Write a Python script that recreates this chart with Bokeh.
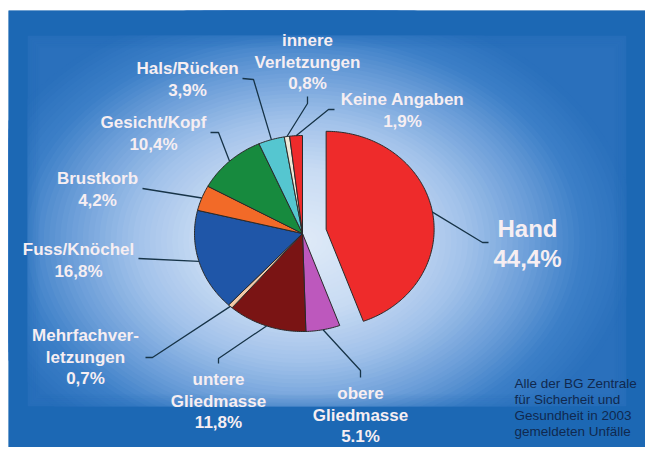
import numpy as np
from bokeh.plotting import figure
from bokeh.models import Range1d
from bokeh.core.properties import value
from bokeh.embed import file_html
from bokeh.resources import INLINE

# ---------------- data ----------------
categories = ["Hand", "obere Gliedmasse", "untere Gliedmasse", "Mehrfachverletzungen",
              "Fuss/Knöchel", "Brustkorb", "Gesicht/Kopf", "Hals/Rücken",
              "innere Verletzungen", "Keine Angaben"]
shares = [44.4, 5.1, 11.8, 0.7, 16.8, 4.2, 10.4, 3.9, 0.8, 1.9]
name_lines = [["Hand"], ["obere", "Gliedmasse"], ["untere", "Gliedmasse"],
              ["Mehrfachver-", "letzungen"], ["Fuss/Knöchel"], ["Brustkorb"],
              ["Gesicht/Kopf"], ["Hals/Rücken"], ["innere", "Verletzungen"],
              ["Keine Angaben"]]
pct_labels = ["44,4%", "5.1%", "11,8%", "0,7%", "16,8%", "4,2%", "10,4%", "3,9%", "0,8%", "1,9%"]
note_lines = ["Alle der BG Zentrale", "für Sicherheit und", "Gesundheit in 2003",
              "gemeldeten Unfälle"]

# ---------------- style / layout ----------------
slice_colors = ["#ee2b2b", "#bd58bd", "#7a1414", "#f2c8a6", "#1f56a8", "#f26a28",
                "#178a3e", "#55c6d0", "#efe8d6", "#ee2b2b"]
explode = [24, 0, 0, 0, 0, 0, 0, 0, 0, 0]
# label anchor (centre of first line) and leader line points, in page pixels
label_pos = [(527, 228), (360, 393), (218, 379), (85, 335), (78, 249),
             (97, 178), (153, 122), (187, 68), (307, 40), (402, 99)]
leader_end = [(488, 242), (360, 377), (218, 363), (145, 357), (138, 258),
              (142, 188), (210, 132), (242, 78), (307, 96), (334, 109)]
leader_elbow = [(482, 242), (360, 370), (218, 358), (152, 357), (138, 258),
                (142, 188), (218, 132), (253, 79), (307, 103), (328, 109)]

X0, X1, YT, YB = 8, 645, 10, 447          # blue panel in page pixels
IX0, IX1, IYT, IYB = 27, 626, 35, 406     # inner (plot area) rectangle
W, H = X1, YB


def Y(y):
    return 454 - y


p = figure(width=W, height=H, output_backend="svg", toolbar_location=None,
           x_range=Range1d(X0, X1), y_range=Range1d(Y(YB), Y(YT)),
           min_border_left=X0, min_border_right=0, min_border_bottom=0, min_border_top=YT)
p.axis.visible = False
p.grid.visible = False
p.outline_line_color = None
p.border_fill_color = "white"
p.background_fill_color = "#1c68b4"


def hex2rgb(h):
    return np.array([int(h[i:i + 2], 16) for i in (1, 3, 5)], dtype=float)


def interp_color(s, stops_s, stops_c):
    rgb = np.array([hex2rgb(c) for c in stops_c])
    vals = [np.interp(s, stops_s, rgb[:, j]) for j in range(3)]
    return "#%02x%02x%02x" % tuple(int(round(v)) for v in vals)


# ---------------- background: elliptical glow in the inner area ----------------
p.quad(left=IX0, right=IX1, top=Y(IYT), bottom=Y(IYB), fill_color="#2a70bc", line_color=None)
g_s = [0.0, 0.3, 0.5, 0.7, 0.85, 1.0]
g_c = ["#e0ebf8", "#c8dbf3", "#a2c2ea", "#6a9dd8", "#3c7fc7", "#2a70bc"]
gcx, gcy, ga, gb = 300, 240, 335, 245
n_g = 60
for k in range(n_g):
    s = 1.0 - k / n_g
    p.ellipse(x=gcx, y=Y(gcy), width=2 * ga * s, height=2 * gb * s,
              fill_color=interp_color(s, g_s, g_c), line_color=None)

# outer frame band (darker blue), drawn over the glow
band = "#1c68b4"
p.quad(left=[X0, X0, X0, IX1], right=[X1, X1, IX0, X1],
       top=[Y(YT), Y(IYB), Y(IYT), Y(IYT)], bottom=[Y(IYT), Y(YB), Y(IYB), Y(IYB)],
       fill_color=[band, band, band, band], line_color=None)
# soft inner edge of the band
for j in range(6):
    inset = 1 + 2 * j
    p.rect(x=(IX0 + IX1) / 2, y=Y((IYT + IYB) / 2),
           width=(IX1 - IX0) - 2 * inset, height=(IYB - IYT) - 2 * inset,
           fill_color=None, line_color=band, line_width=2, line_alpha=0.3 * (1 - j / 6))

# ---------------- pie ----------------
cx, cy = 302, Y(233)
rx, ry = 108, 98
fr = np.array(shares) / sum(shares)
start = np.deg2rad(90) - 2 * np.pi * np.concatenate([[0], np.cumsum(fr)[:-1]])
end = start - 2 * np.pi * fr
mid = (start + end) / 2

xs, ys = [], []
edge_pts = []
for i in range(len(shares)):
    ox = explode[i] * np.cos(mid[i])
    oy = explode[i] * np.sin(mid[i])
    n = max(3, int(abs(np.rad2deg(start[i] - end[i]))) + 2)
    t = np.linspace(start[i], end[i], n)
    xs.append([cx + ox] + list(cx + ox + rx * np.cos(t)))
    ys.append([cy + oy] + list(cy + oy + ry * np.sin(t)))
    edge_pts.append((cx + ox + rx * np.cos(mid[i]), cy + oy + ry * np.sin(mid[i])))

p.patches(xs=xs, ys=ys, fill_color=slice_colors, line_color="#2a2a2a", line_width=1)

# ---------------- leader lines ----------------
lx, ly = [], []
for i in range(len(shares)):
    ex, ey = edge_pts[i]
    bx, by = leader_elbow[i]
    qx, qy = leader_end[i]
    lx.append([ex, bx, qx])
    ly.append([ey, Y(by), Y(qy)])
p.multi_line(xs=lx, ys=ly, line_color="#173448", line_width=1.3)

# ---------------- labels ----------------
tx, ty, tt, tsize = [], [], [], []
for i in range(len(shares)):
    lines = name_lines[i] + [pct_labels[i]]
    big = (i == 0)
    step = 30 if big else 21.7
    x0, y0 = label_pos[i]
    for k, s in enumerate(lines):
        tx.append(x0)
        ty.append(Y(y0 + k * step))
        tt.append(s)
        tsize.append("24px" if big else "17px")

p.text(x=tx, y=ty, text=tt, text_font=value("Liberation Sans"), text_font_style="bold",
       text_font_size=tsize, text_color="#f6eef2", text_align="center",
       text_baseline="middle")

note_y = [383, 399, 414.5, 430.5]
p.text(x=[514] * len(note_lines), y=[Y(v) for v in note_y], text=note_lines,
       text_font=value("Liberation Sans"), text_font_size="13.5px",
       text_color="#10294f", text_align="left", text_baseline="middle")

open("out.html", "w").write(file_html(p, INLINE))
